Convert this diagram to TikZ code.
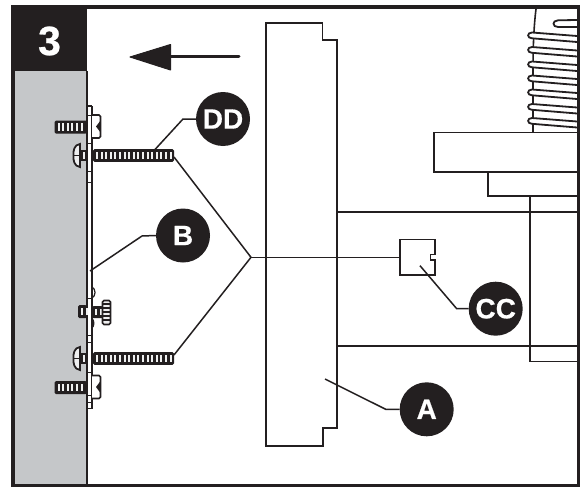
\documentclass[tikz,border=0pt]{standalone}
\usepackage{fontspec}
\setmainfont{Liberation Sans}
\newfontfamily\heavyfont[UprightFont=* Bold,FakeBold=0.6]{Liberation Sans}
\definecolor{ink}{HTML}{231F20}
\definecolor{wall}{HTML}{C5C7C9}
\tikzset{
  part/.style={draw=ink,line width=1.7pt,line join=miter},
  leader/.style={draw=ink,line width=1.5pt},
  badge/.style={circle,fill=ink,text=white,minimum size=54pt,inner sep=0pt,font=\fontsize{28}{28}\heavyfont},
  hair/.style={draw=ink,line width=1.8pt,line cap=round},
}
% threaded shank: x1, x2, centre y, half height
\newcommand\shank[4]{%
  \fill[ink,rounded corners=1.5pt] (#1,#3-#4) rectangle (#2,#3+#4);
  \pgfmathsetmacro\xs{#1+3}\pgfmathsetmacro\xn{#1+7.6}\pgfmathsetmacro\xe{#2-4}
  \foreach \q in {\xs,\xn,...,\xe}{\fill[white!75!wall] (\q,#3-#4+2.6) rectangle (\q+2,#3+#4-2.6);}
}
% pan head, facing left
\newcommand\panhead[1]{%
  \fill[white!70!wall,draw=ink,line width=1.8pt] (80,#1-11.5) .. controls (74,#1-11) and (73,#1-4) .. (73.5,#1) .. controls (73,#1+4) and (74,#1+11) .. (80,#1+11.5) -- cycle;
  \draw[ink,line width=1.8pt] (73.5,#1) -- (79,#1);
  \fill[ink] (80,#1-5.5) rectangle (87,#1+5.5);
  \fill[white!70!wall] (82.5,#1-3.5) rectangle (84.5,#1+3.5);
}
% square nut, right of the plate
\newcommand\squarenut[1]{%
  \draw[ink,line width=1.6pt,fill=white,rounded corners=1.5pt] (92,#1-11.5) -- (100.5,#1-11.5) -- (100.5,#1+11.5) -- (92,#1+11.5);
  \fill[ink] (100.5,#1-6) -- (96,#1) -- (100.5,#1+6) -- cycle;
}
\begin{document}
\begin{tikzpicture}[x=1pt,y=-1pt]
\useasboundingbox (0,0) rectangle (586,487);
\fill[white] (0,0) rectangle (586,487);
% wall and header
\fill[wall] (13,71) rectangle (87,485);
\fill[ink] (13,6) rectangle (87,71);
\draw[ink,line width=1.8pt] (87,71) -- (87,485);
\node[text=white,font=\fontsize{41}{41}\heavyfont] (stepno) at (49.5,41) {3};
% direction arrow
\coordinate (arrowtail) at (239,57);
\coordinate (arrowbase) at (170,57);
\draw[ink,line width=3pt,line cap=round] (arrowtail) -- (arrowbase);
\fill[ink,draw=ink,line width=1pt,line join=round] (130,57) -- (170.5,44.5) -- (170.5,70) -- cycle;
% plate A
\draw[part] (337,211) -- (337,40) -- (322.5,40) -- (322.5,23) -- (266,23) -- (266,446) -- (322.7,446) -- (322.7,428) -- (337,428) -- (337,211);
\draw[part] (337,211.8) -- (578,211.8);
\draw[part] (337,346) -- (578,346);
% stepped housing
\draw[part] (578,132.5) -- (434,132.5) -- (434,171.7) -- (578,171.7);
\draw[part] (487.7,171.7) -- (487.7,196) -- (578,196);
\draw[part] (530,196) -- (530,361.5) -- (578,361.5);
% coil
\draw[ink,line width=1.6pt] (533,132.5) -- (533,70) .. controls (533,45) and (534,25) .. (536,9);
\foreach \c in {35,49.5,64,78,92,106.5,120.5}{
  \fill[white] (530,\c-2) rectangle (577,\c+3);
  \draw[hair] (577,\c+1) -- (532,\c-2.5) .. controls (526.8,\c-2.5) and (526.8,\c+3.3) .. (532,\c+3.3) -- (577,\c+7);
}
\draw[hair] (577,20) -- (558,20.3) .. controls (552,20.5) and (552,27) .. (558,27) -- (577,27);
% mounting plate
\draw[ink,line width=1.3pt] (92,106) -- (92,408.5);
\draw[ink,line width=1.1pt] (87,106) -- (92,106);
\draw[ink,line width=1.1pt] (87,408.5) -- (92,408.5);
\foreach \y in {115,143,171,182,298,335,342,372,395,402}{\draw[ink,line width=1pt] (87,\y) -- (92,\y);}
\draw[ink,line width=1.2pt] (92,287) .. controls (96,289) and (96,296) .. (92,298);
\draw[ink,line width=1.2pt] (92,318) .. controls (95,322) and (94,326) .. (92,328);
% screws
\shank{54.5}{87}{127}{6.5}\squarenut{126.5}
\shank{93}{174}{155.5}{6.3}\panhead{155.5}
\shank{78}{87}{311.5}{6.5}
\shank{92}{103}{312}{6}
\fill[white!70!wall,draw=ink,line width=1.6pt,rounded corners=1.5pt] (102.5,300.5) rectangle (110.5,324.5);
\foreach \y in {304,308,312,316,320}{\draw[ink,line width=1.5pt] (103,\y) -- (110,\y);}
\shank{93}{174}{358.5}{6.3}\panhead{358.5}
\shank{54.5}{87}{387.5}{6.5}\squarenut{387}
% badges
\node[badge] (dd) at (223,119) {DD};
\node[badge] (b) at (183,235.5) {B};
\node[badge] (cc) at (495.7,308.7) {CC};
\node[badge] (a) at (426.7,409.3) {A};
% small part CC
\draw[part] (400,239.5) -- (435,239.5) -- (435,254.5) -- (430.5,254.5) -- (430.5,260) -- (435,260) -- (435,275) -- (400,275) -- cycle;
\node[inner sep=0pt,minimum size=0pt] (ccpart) at (400,257.3) {};
% leaders
\coordinate (jct) at (251,257.3);
\coordinate (ddtip) at (155,149.5);
\coordinate (ddknee) at (183,119);
\coordinate (up) at (174,157);
\coordinate (low) at (174,355);
\coordinate (btip) at (90,271);
\coordinate (bknee) at (142,236);
\coordinate (cctip) at (420,265.7);
\coordinate (ccknee) at (456.7,308.7);
\coordinate (atip) at (325,379);
\coordinate (aknee) at (385.7,409.3);
\draw[leader] (dd.west) -- (ddknee) -- (ddtip);
\draw[leader] (b.west) -- (bknee) -- (btip);
\draw[leader] (up) -- (jct) -- (low);
\draw[leader] (jct) -- (ccpart);
\draw[leader] (cc.west) -- (ccknee) -- (cctip);
\draw[leader] (a.west) -- (aknee) -- (atip);
% frame
\draw[ink,line width=3.4pt] (13,7) rectangle (578.5,485.5);
\end{tikzpicture}
\end{document}
